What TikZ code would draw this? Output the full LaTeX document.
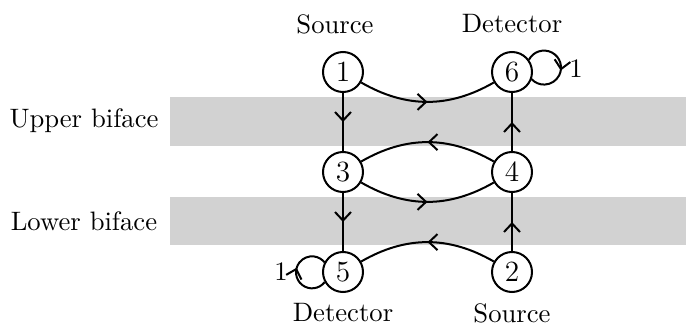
\documentclass[tikz,border=0pt]{standalone}
\usetikzlibrary{arrows.meta,decorations.markings}
\begin{document}
\begin{tikzpicture}[x=0.375pt,y=-0.375pt,
  state/.style={circle,draw,line width=0.75pt,minimum size=15pt,inner sep=0pt,font=\fontsize{11}{13}\selectfont},
  lbl/.style={font=\normalsize},
  band/.style={fill=gray!35,draw=none},
  conn/.style={line width=0.75pt,decoration={markings,mark=at position #1 with {\arrow{Straight Barb[length=3.2pt,width=6pt,line width=0.75pt]}}},postaction={decorate}},
  conn/.default=0.5]
\useasboundingbox (0,0) rectangle (686,325);
\fill[band] (170,97) rectangle (686,146);
\fill[band] (170,197) rectangle (686,245);
\node[lbl] (ub) at (84,121) {Upper biface};
\node[lbl] (lb) at (84,221) {Lower biface};
\node[state] (n1) at (343,72) {1};
\node[state] (n6) at (512,72) {6};
\node[state] (n3) at (343,172) {3};
\node[state] (n4) at (512,172) {4};
\node[state] (n5) at (343,272) {5};
\node[state] (n2) at (512,272) {2};
\node[lbl] (s1) at (335,24) {Source};
\node[lbl] (d6) at (512,24) {Detector};
\node[lbl] (d5) at (343,313) {Detector};
\node[lbl] (s2) at (512,313) {Source};
\node[lbl] (l6) at (576,69) {1};
\node[lbl] (l5) at (281,272) {1};
\draw[conn] (n1) to[bend right=30] (n6);
\draw[conn] (n4) to[bend right=30] (n3);
\draw[conn] (n3) to[bend right=30] (n4);
\draw[conn] (n2) to[bend right=30] (n5);
\draw[conn] (n1) -- (n3);
\draw[conn] (n3) -- (n5);
\draw[conn] (n2) -- (n4);
\draw[conn] (n4) -- (n6);
\draw[conn=0.56] (n6.36.6) arc[start angle=152.2, end angle=-137.4, radius=6.375pt];
\draw[conn=0.56] (n5.209.5) arc[start angle=-38, end angle=-322, radius=6pt];
\end{tikzpicture}
\end{document}
